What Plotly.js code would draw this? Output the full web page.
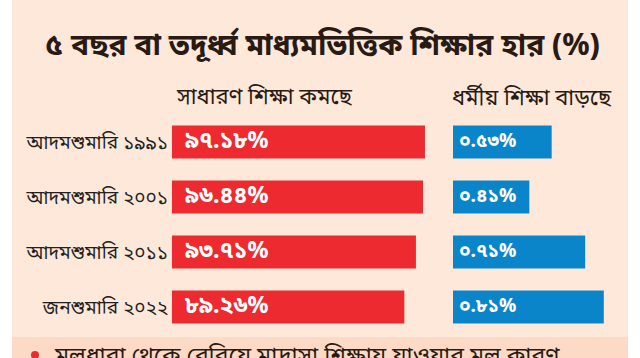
<!DOCTYPE html>
<html>
<head>
<meta charset="utf-8">
<script src="https://cdn.plot.ly/plotly-3.0.1.min.js"></script>
<style>html,body{margin:0;padding:0;background:#fff;}#chart{width:640px;height:358px;}</style>
</head>
<body>
<div id="chart"></div>
<script>
const categories = ['আদমশুমারি ১৯৯১', 'আদমশুমারি ২০০১', 'আদমশুমারি ২০১১', 'জনশুমারি ২০২২'];
const generalValues = [97.18, 96.44, 93.71, 89.26];
const religiousValues = [0.53, 0.41, 0.71, 0.81];
const titleText = '৫ বছর বা তদূর্ধ্ব মাধ্যমভিত্তিক শিক্ষার হার (%)';
const seriesNames = ['সাধারণ শিক্ষা কমছে', 'ধর্মীয় শিক্ষা বাড়ছে'];
const footerText = 'মূলধারা থেকে বেরিয়ে মাদ্রাসা শিক্ষায় যাওয়ার মূল কারণ';

const bnDigits = ['০','১','২','৩','৪','৫','৬','৭','৮','৯'];
function toBn(v){ return v.toFixed(2).replace(/[0-9]/g, d => bnDigits[+d]) + '%'; }

const FONT = '"Noto Sans Bengali", "Noto Serif Bengali", "Lohit Bengali", "Noto Sans", sans-serif';
const W = 640, H = 358;
const px = x => x / W;
const py = y => (H - y) / H;

const RED = '#ec2a2f', BLUE = '#0a85c9', BG = '#fde8da', STRIP = '#fcdac6', INK = '#2a1a14';

const traces = [
  {type:'bar', orientation:'h', y:categories, x:generalValues, xaxis:'x', yaxis:'y',
   marker:{color:RED, line:{width:0}}, hoverinfo:'none', showlegend:false},
  {type:'bar', orientation:'h', y:categories, x:religiousValues, xaxis:'x2', yaxis:'y2',
   marker:{color:BLUE, line:{width:0}}, hoverinfo:'none', showlegend:false}
];

const annotations = [];
categories.forEach((c, i) => {
  annotations.push({xref:'x', yref:'y', x:0, y:c, text:toBn(generalValues[i]), showarrow:false,
    xanchor:'left', xshift:11, font:{family:FONT, size:23, color:'#ffffff', weight:'bold'}});
  annotations.push({xref:'x2', yref:'y2', x:0, y:c, text:toBn(religiousValues[i]), showarrow:false,
    xanchor:'left', xshift:4, font:{family:FONT, size:19, color:'#ffffff', weight:'bold'}});
});
annotations.push({xref:'paper', yref:'paper', x:px(322), y:py(47), text:titleText, showarrow:false,
  xanchor:'center', yanchor:'middle', font:{family:FONT, size:30, color:INK, weight:'bold'}});
annotations.push({xref:'paper', yref:'paper', x:px(264), y:py(98), text:seriesNames[0], showarrow:false,
  xanchor:'center', yanchor:'middle', font:{family:FONT, size:22, color:INK}});
annotations.push({xref:'paper', yref:'paper', x:px(532), y:py(98), text:seriesNames[1], showarrow:false,
  xanchor:'center', yanchor:'middle', font:{family:FONT, size:22, color:INK}});
annotations.push({xref:'paper', yref:'paper', x:px(52), y:py(340), text:footerText, showarrow:false,
  xanchor:'left', yanchor:'top', font:{family:FONT, size:23, color:INK}});

const layout = {
  width:W, height:H,
  margin:{l:0, r:0, t:0, b:0, pad:0},
  paper_bgcolor:'#ffffff', plot_bgcolor:'rgba(0,0,0,0)',
  bargap:0.4,
  font:{family:FONT, color:INK},
  xaxis:{domain:[px(172), px(432.3)], range:[0,100], visible:false, fixedrange:true, anchor:'y'},
  xaxis2:{domain:[px(453), px(628)], range:[0,0.94], visible:false, fixedrange:true, anchor:'y2'},
  yaxis:{domain:[py(334.5), py(114.5)], type:'category', categoryorder:'array', categoryarray:categories,
    autorange:'reversed', showgrid:false, zeroline:false, showline:false, ticks:'',
    ticklabelstandoff:3, tickfont:{family:FONT, size:19, color:'#231f20'}, anchor:'x'},
  yaxis2:{domain:[py(334.5), py(114.5)], type:'category', categoryorder:'array', categoryarray:categories,
    autorange:'reversed', showgrid:false, zeroline:false, showline:false, showticklabels:false, anchor:'x2'},
  shapes:[
    {type:'rect', xref:'paper', yref:'paper', x0:px(12), x1:px(628), y0:0, y1:1, fillcolor:BG, line:{width:0}, layer:'below'},
    {type:'rect', xref:'paper', yref:'paper', x0:px(12), x1:px(628), y0:0, y1:py(337), fillcolor:STRIP, line:{width:0}, layer:'below'},
    {type:'circle', xref:'paper', yref:'paper', x0:px(31), x1:px(39), y0:py(359), y1:py(351), fillcolor:RED, line:{width:0}, layer:'above'}
  ],
  annotations:annotations
};

Plotly.newPlot('chart', traces, layout, {displayModeBar:false, staticPlot:true});
</script>
</body>
</html>
